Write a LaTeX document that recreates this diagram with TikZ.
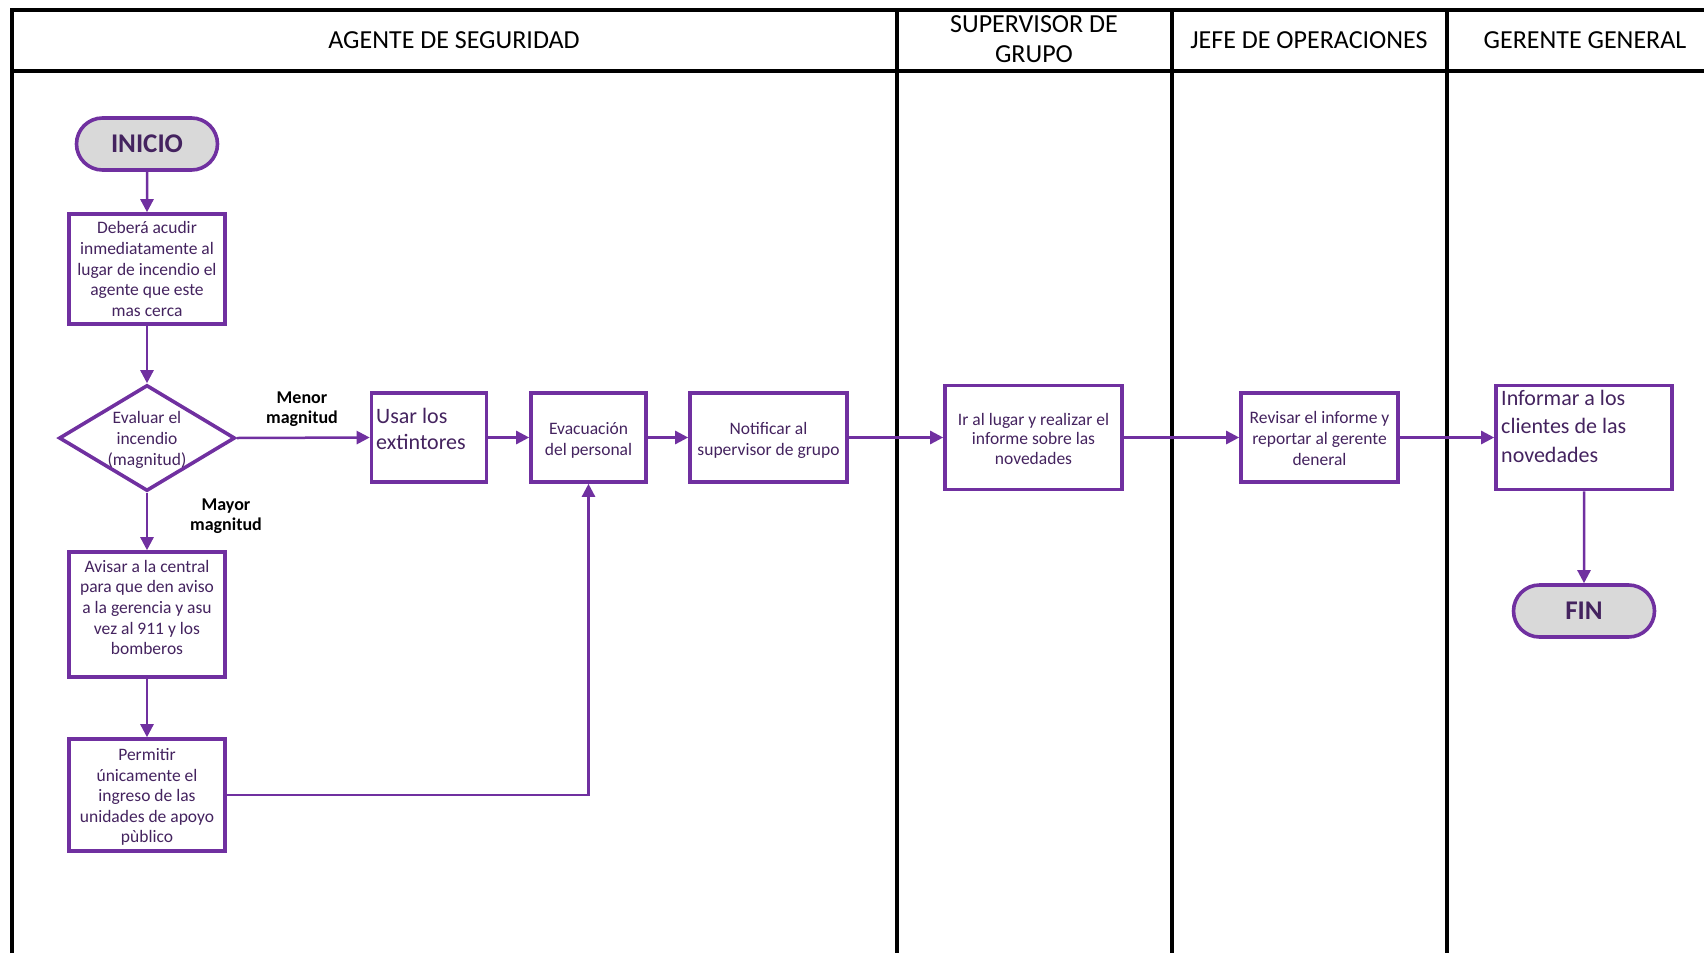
\documentclass[tikz,border=0pt]{standalone}
\usepackage{fontspec}
\setmainfont{Carlito}
\usetikzlibrary{arrows.meta,shapes.misc,shapes.geometric}
\definecolor{purp}{HTML}{7030A0}
\definecolor{ink}{HTML}{44235F}
\definecolor{termfill}{HTML}{D9D9D9}

\begin{document}
\begin{tikzpicture}[x=1pt,y=-1pt,
  lane/.style={draw=black,line width=4pt},
  head/.style={font=\fontsize{26}{30}\selectfont,align=center,text=black,inner sep=0pt},
  box/.style={draw=purp,line width=3.6pt,fill=white,inner sep=0pt,align=center,
    text=ink,font=\fontsize{17.5}{20.6}\selectfont},
  boxtext/.style={align=center,text=ink,inner sep=0pt,font=\fontsize{17.5}{20.6}\selectfont},
  bigtext/.style={align=left,text=ink,inner sep=0pt,anchor=north west},
  term/.style={rounded rectangle,draw=purp,line width=3.6pt,fill=termfill,
    text=ink,font=\fontsize{27}{30}\selectfont\bfseries,
    minimum width=141pt,minimum height=52pt,inner sep=0pt},
  cond/.style={font=\fontsize{18}{20}\selectfont\bfseries,align=center,text=black,inner sep=0pt},
  flow/.style={draw=purp,line width=2.5pt,-{Triangle[length=13pt,width=13pt]}}]

\useasboundingbox (0,0) rectangle (1704,953);

% swimlane frame
\draw[lane] (12,953) -- (12,10) -- (1704,10);
\draw[lane] (12,70.5) -- (1704,70.5);
\draw[lane] (896.5,10) -- (896.5,953);
\draw[lane] (1171.5,10) -- (1171.5,953);
\draw[lane] (1446.5,10) -- (1446.5,953);

% lane titles
\node[head] (hAgente) at (454,40) {AGENTE DE SEGURIDAD};
\node[head] (hSuper) at (1034,39) {SUPERVISOR DE\\GRUPO};
\node[head] (hJefe) at (1309,40) {JEFE DE OPERACIONES};
\node[head] (hGerente) at (1585,40) {GERENTE GENERAL};

% agente de seguridad
\node[term] (inicio) at (147,144) {INICIO};
\node[box,minimum width=156pt,minimum height=110pt] (acudir) at (147,269)
  {Deberá acudir\\inmediatamente al\\lugar de incendio el\\agente que este\\mas cerca};
\node[diamond,draw=purp,line width=3.6pt,fill=white,inner sep=0pt,
  minimum width=176pt,minimum height=106pt] (evaluar) at (147,438) {};
\node[boxtext] (evaluarTxt) at (147,440) {Evaluar el\\incendio\\(magnitud)};
\node[box,minimum width=156pt,minimum height=125pt] (avisar) at (147,614.5) {};
\node[boxtext] (avisarTxt) at (147,607.5)
  {Avisar a la central\\para que den aviso\\a la gerencia y asu\\vez al 911 y los\\bomberos};
\node[box,minimum width=156pt,minimum height=112pt] (permitir) at (147,795) {};
\node[boxtext] (permitirTxt) at (147,797)
  {Permitir\\únicamente el\\ingreso de las\\unidades de apoyo\\pùblico};

\node[box,minimum width=115pt,minimum height=89pt] (usar) at (429,437.5) {};
\node[bigtext,font=\fontsize{22}{26}\selectfont] (usarTxt) at (376,408) {Usar los\\extintores};
\node[box,minimum width=115pt,minimum height=89pt] (evac) at (588.5,437.5) {};
\node[boxtext] (evacTxt) at (588.5,440.5) {Evacuación\\del personal};
\node[box,minimum width=157pt,minimum height=89pt] (notif) at (768.5,437.5) {};
\node[boxtext] (notifTxt) at (768.5,440.5) {Notificar al\\supervisor de grupo};

% supervisor de grupo
\node[box,minimum width=177pt,minimum height=104pt] (ir) at (1033.5,437.5) {};
\node[boxtext,font=\fontsize{17.5}{19.5}\selectfont] (irTxt) at (1033.5,438.5)
  {Ir al lugar y realizar el\\informe sobre las\\novedades};

% jefe de operaciones
\node[box,minimum width=157pt,minimum height=89pt] (revisar) at (1319.5,437.5) {};
\node[boxtext] (revisarTxt) at (1319.5,438.5)
  {Revisar el informe y\\reportar al gerente\\deneral};

% gerente general
\node[box,minimum width=176pt,minimum height=104pt] (informar) at (1584,437.5) {};
\node[bigtext,font=\fontsize{22}{28.5}\selectfont] (informarTxt) at (1501,390)
  {Informar a los\\clientes de las\\novedades};
\node[term] (fin) at (1584,611) {FIN};

% branch labels
\node[cond] (menor) at (302,409) {Menor\\magnitud};
\node[cond] (mayor) at (226,516.5) {Mayor\\magnitud};

% connectors
\draw[flow] (inicio) -- (acudir);
\draw[flow] (acudir) -- (evaluar.north);
\draw[flow] (evaluar.east) -- (usar.west);
\draw[flow] (evaluar.south) -- (avisar.north);
\draw[flow] (avisar) -- (permitir);
\draw[flow] (permitir.east) -| (evac.south);
\draw[flow] (usar) -- (evac);
\draw[flow] (evac) -- (notif);
\draw[flow] (notif) -- (ir);
\draw[flow] (ir) -- (revisar);
\draw[flow] (revisar) -- (informar);
\draw[flow] (informar) -- (fin);

\end{tikzpicture}
\end{document}
